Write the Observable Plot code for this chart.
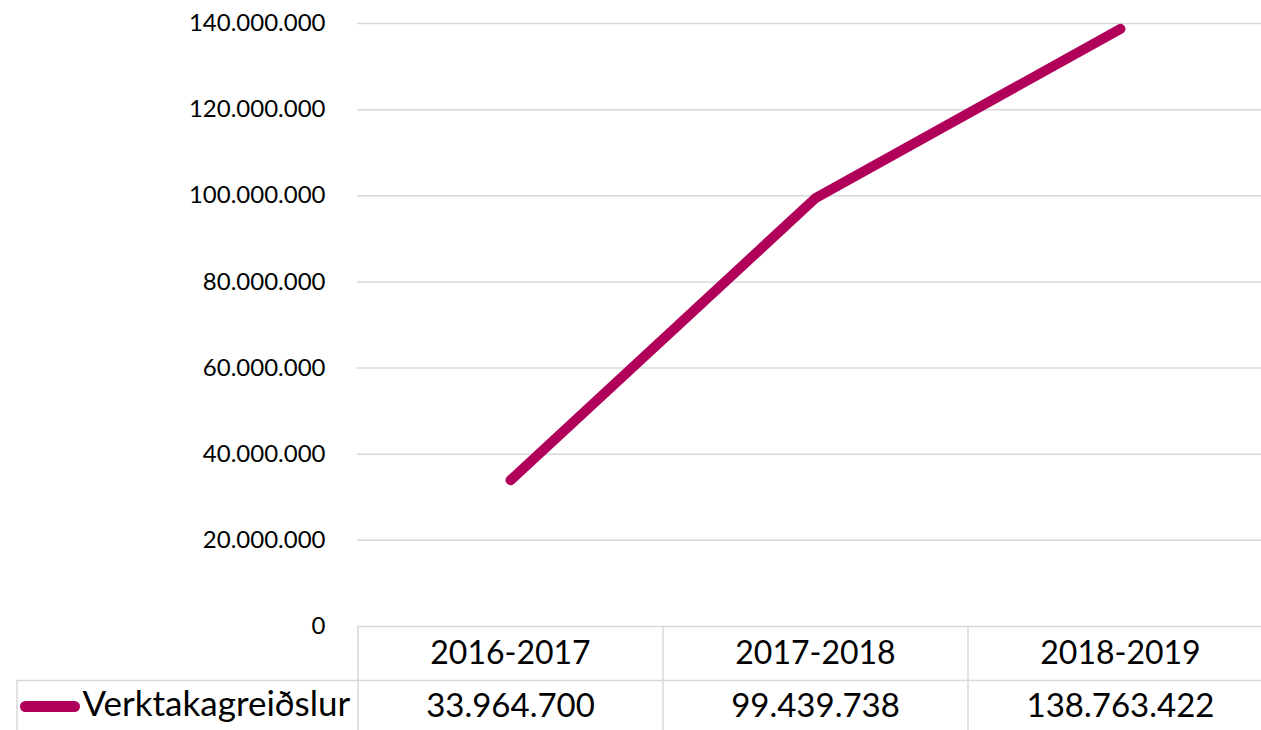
<!DOCTYPE html>
<html>
<head>
<meta charset="utf-8">
<script src="https://cdn.jsdelivr.net/npm/d3@7"></script>
<script src="https://cdn.jsdelivr.net/npm/@observablehq/plot@0.6"></script>
<style>
  html, body { margin: 0; padding: 0; background: #fff; }
  #chart svg { display: block; }
</style>
</head>
<body>
<div id="chart"></div>
<script>
const categories = ["2016-2017", "2017-2018", "2018-2019"];
const values = [33964700, 99439738, 138763422];
const seriesName = "Verktakagreiðslur";
const yTicks = [0, 20000000, 40000000, 60000000, 80000000, 100000000, 120000000, 140000000];

const lineColor = "#B1005A";
const gridColor = "#D9D9D9";

const locale = d3.formatLocale({decimal: ",", thousands: ".", grouping: [3], currency: ["", ""]});
const fmt = locale.format(",d");

const data = categories.map((c, i) => ({cat: c, value: values[i]}));

const chart = Plot.plot({
  width: 1261,
  height: 730,
  marginTop: 23,
  marginBottom: 104,
  marginLeft: 357,
  marginRight: 0,
  style: {fontFamily: "Lato, sans-serif", fontSize: "24px", color: "#000", background: "#fff"},
  x: {type: "point", domain: categories, range: [357, 1272], padding: 0.5, axis: null},
  y: {domain: [0, 140000000], ticks: yTicks, tickFormat: fmt, tickSize: 0, tickPadding: 32, label: null},
  marks: [
    Plot.ruleY(yTicks.filter(d => d > 0), {stroke: gridColor, strokeWidth: 1.5}),
    // data table borders
    Plot.ruleY([0], {stroke: gridColor, strokeWidth: 1.5}),
    Plot.ruleY([0], {dy: 54, insetLeft: -341, stroke: gridColor, strokeWidth: 1.5}),
    Plot.ruleX(categories, {x: d => d, y1: 0, y2: -40000000, dx: -152.5, stroke: gridColor, strokeWidth: 1.5}),
    Plot.ruleX([categories[0]], {x: d => d, y1: 0, y2: -40000000, dy: 54, dx: -493.5, stroke: gridColor, strokeWidth: 1.5}),
    // series line
    Plot.line(data, {x: "cat", y: "value", stroke: lineColor, strokeWidth: 10, strokeLinecap: "round", strokeLinejoin: "round"}),
    // table text
    Plot.text(categories, {x: d => d, frameAnchor: "bottom", dy: 37, fontSize: 32, fill: "#000"}),
    Plot.text(data, {x: "cat", text: d => fmt(d.value), frameAnchor: "bottom", dy: 90, fontSize: 33, fill: "#000"}),
    Plot.text([seriesName], {frameAnchor: "bottom-left", textAnchor: "start", dx: -275, dy: 89, fontSize: 35, fill: "#000"}),
    Plot.ruleY([0], {dy: 80, insetLeft: -331.5, insetRight: 1186.5, stroke: lineColor, strokeWidth: 11, strokeLinecap: "round"})
  ]
});
document.getElementById("chart").appendChild(chart);
</script>
</body>
</html>
